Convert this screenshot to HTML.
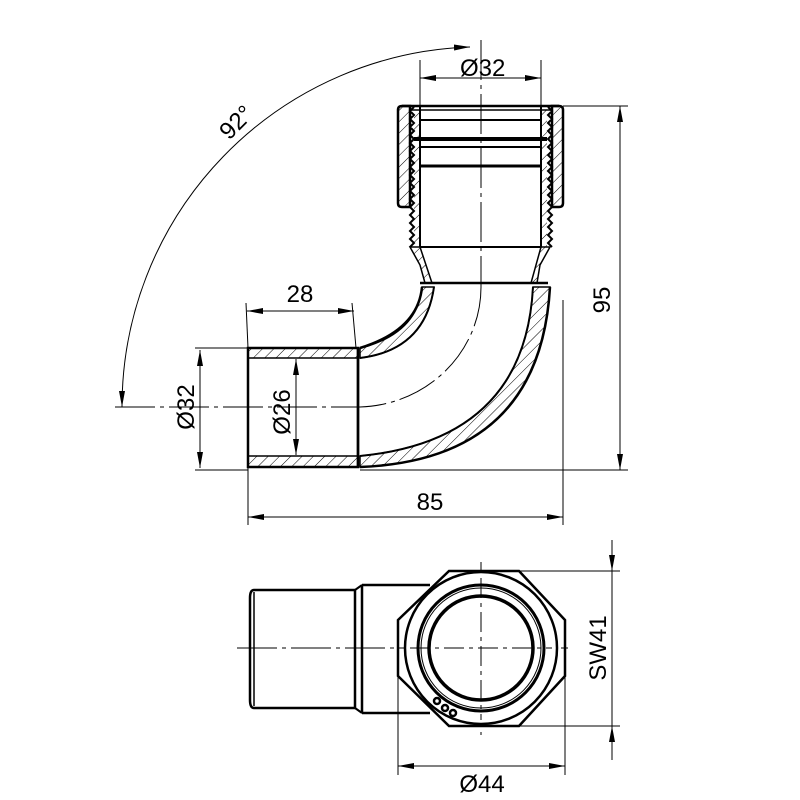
<!DOCTYPE html>
<html><head><meta charset="utf-8"><style>
html,body{margin:0;padding:0;background:#fff}
svg{display:block}
text{font-family:"Liberation Sans",sans-serif;font-size:24px;fill:#000}
</style></head><body>
<svg width="800" height="800" viewBox="0 0 800 800" xmlns="http://www.w3.org/2000/svg">
<defs>
<pattern id="h" width="8" height="8" patternUnits="userSpaceOnUse" patternTransform="rotate(45)">
<line x1="0" y1="0" x2="0" y2="8" stroke="#000" stroke-width="1"/>
</pattern>
<marker id="b" viewBox="0 0 16 6" refX="16" refY="3" markerWidth="16" markerHeight="6" orient="auto-start-reverse" markerUnits="userSpaceOnUse">
<path d="M0,0 L16,3 L0,6z" fill="#000"/>
</marker>
</defs>
<g fill="none" stroke="#000">
<line x1="481" y1="40" x2="481" y2="287" stroke-width="1" stroke-dasharray="40,5,4,5"/>
<line x1="115" y1="407" x2="360" y2="407" stroke-width="1" stroke-dasharray="40,5,4,5"/>
<path d="M481,287 A125,120 0 0 1 360,407" stroke-width="1" stroke-dasharray="40,5,4,5"/>

<path d="M360,348 L368,346 Q418,330 422,287 L434,287 Q425,350 360,358 Z" fill="url(#h)" stroke-width="1.5"/>
<path d="M360,467 Q540,460 550,287 L533,287 Q525,440 360,456 Z" fill="url(#h)" stroke-width="1.5"/>
<path d="M360,348 Q418,330 422,287" stroke-width="2.5"/>
<path d="M360,467 Q540,460 550,287" stroke-width="2.5"/>
<path d="M360,358 Q425,350 434,287" stroke-width="2"/>
<path d="M360,456 Q525,440 533,287" stroke-width="2"/>
<line x1="420" y1="283" x2="548" y2="283" stroke-width="2.5"/>

<rect x="248" y="348" width="110" height="10" fill="url(#h)" stroke-width="1.5"/>
<rect x="248" y="456" width="110" height="11" fill="url(#h)" stroke-width="1.5"/>
<rect x="248" y="348" width="110" height="119" stroke-width="2.5"/>
<line x1="358" y1="348" x2="358" y2="467" stroke-width="2.5"/>

<path d="M410,247 L420,265 L425,283 L432,283 L420,247 Z" fill="url(#h)" stroke-width="1.5"/>
<path d="M550,247 L540,265 L537,283 L531,283 L541,247 Z" fill="url(#h)" stroke-width="1.5"/>
<line x1="420" y1="247" x2="541" y2="247" stroke-width="2"/>

<path d="M410,247 l4,-4 l-4,-4 l4,-4 l-4,-4 l4,-4 l-4,-4 l4,-4 l-4,-4 l4,-4 l-4,-4 l4,-4 l-4,-4 l4,-4 l-4,-4 l4,-4 l-4,-4 l4,-4 l-4,-4 l4,-4 l-4,-4 l4,-4 l-4,-4 l4,-4 l-4,-4 l4,-4 l-4,-4 l4,-4 l-4,-4 l4,-4 l-4,-4 l4,-4 l-4,-4 l4,-4 l-4,-4 l4,-4" stroke-width="2"/>
<path d="M552,247 l-4,-4 l4,-4 l-4,-4 l4,-4 l-4,-4 l4,-4 l-4,-4 l4,-4 l-4,-4 l4,-4 l-4,-4 l4,-4 l-4,-4 l4,-4 l-4,-4 l4,-4 l-4,-4 l4,-4 l-4,-4 l4,-4 l-4,-4 l4,-4 l-4,-4 l4,-4 l-4,-4 l4,-4 l-4,-4 l4,-4 l-4,-4 l4,-4 l-4,-4 l4,-4 l-4,-4 l4,-4 l-4,-4" stroke-width="2"/>
<path d="M414,247 L420,247 L420,108 L414,108 Z" fill="url(#h)" stroke="none"/>
<path d="M541,247 L547,247 L547,108 L541,108 Z" fill="url(#h)" stroke="none"/>
<line x1="420" y1="106" x2="420" y2="247" stroke-width="2"/>
<line x1="541" y1="106" x2="541" y2="247" stroke-width="2"/>

<path d="M398,110 Q398,106 402,106 L410,106 L410,207 L402,207 Q398,207 398,203 Z" fill="url(#h)" stroke-width="2.5"/>
<path d="M563,110 Q563,106 559,106 L552,106 L552,207 L559,207 Q563,207 563,203 Z" fill="url(#h)" stroke-width="2.5"/>
<path d="M402,106 L559,106" stroke-width="2.5"/>
<line x1="410" y1="110" x2="552" y2="110" stroke-width="1.5"/>
<line x1="420" y1="120" x2="541" y2="120" stroke-width="2"/>
<line x1="414" y1="139" x2="547" y2="139" stroke-width="4"/>
<line x1="420" y1="147" x2="541" y2="147" stroke-width="2"/>
<line x1="420" y1="166" x2="541" y2="166" stroke-width="3"/>

<line x1="420" y1="60" x2="420" y2="106" stroke-width="1"/>
<line x1="541" y1="60" x2="541" y2="106" stroke-width="1"/>
<line x1="420" y1="78" x2="541" y2="78" stroke-width="1" marker-start="url(#b)" marker-end="url(#b)"/>
<line x1="563" y1="106" x2="628" y2="106" stroke-width="1"/>
<line x1="360" y1="470" x2="628" y2="470" stroke-width="1"/>
<line x1="620" y1="106" x2="620" y2="470" stroke-width="1" marker-start="url(#b)" marker-end="url(#b)"/>
<line x1="248" y1="467" x2="248" y2="525" stroke-width="1"/>
<line x1="563" y1="300" x2="563" y2="525" stroke-width="1"/>
<line x1="248" y1="517" x2="563" y2="517" stroke-width="1" marker-start="url(#b)" marker-end="url(#b)"/>
<line x1="246" y1="303" x2="248" y2="348" stroke-width="1"/>
<line x1="352" y1="303" x2="356" y2="348" stroke-width="1"/>
<line x1="247" y1="311" x2="354" y2="311" stroke-width="1" marker-start="url(#b)" marker-end="url(#b)"/>
<line x1="195" y1="348" x2="248" y2="348" stroke-width="1"/>
<line x1="195" y1="470" x2="248" y2="470" stroke-width="1"/>
<line x1="200" y1="350" x2="200" y2="468" stroke-width="1" marker-start="url(#b)" marker-end="url(#b)"/>
<line x1="296" y1="359" x2="296" y2="455" stroke-width="1" marker-start="url(#b)" marker-end="url(#b)"/>
<path d="M470,47 A360,360 0 0 0 122,407" stroke-width="1" marker-start="url(#b)" marker-end="url(#b)"/>

<line x1="237" y1="648" x2="568" y2="648" stroke-width="1" stroke-dasharray="40,5,4,5"/>
<line x1="481" y1="562" x2="481" y2="735" stroke-width="1" stroke-dasharray="20,5,4,5"/>
<path d="M254,590 L355,590 L355,708 L254,708 Q250,708 250,700 L250,598 Q250,590 254,590 Z" stroke-width="2.5"/>
<line x1="254" y1="592" x2="254" y2="706" stroke-width="1.5"/>
<line x1="355" y1="590" x2="362" y2="585" stroke-width="2"/>
<line x1="355" y1="708" x2="362" y2="713" stroke-width="2"/>
<line x1="362" y1="585" x2="362" y2="713" stroke-width="2.5"/>
<line x1="362" y1="585" x2="430" y2="585" stroke-width="2.5"/>
<line x1="362" y1="713" x2="430" y2="713" stroke-width="2.5"/>
<path d="M449,571 L519,571 L565,620 L565,676 L519,726 L449,726 L398,676 L398,620 Z" stroke-width="2.5"/>
<circle cx="481" cy="648" r="76" stroke-width="2.5" fill="#fff"/>
<circle cx="481" cy="648" r="63" stroke-width="3"/>
<circle cx="481" cy="648" r="60" stroke-width="1"/>
<circle cx="481" cy="648" r="52" stroke-width="3.5"/>
<line x1="410" y1="648" x2="552" y2="648" stroke-width="1" stroke-dasharray="20,5,4,5"/>
<line x1="481" y1="578" x2="481" y2="720" stroke-width="1" stroke-dasharray="20,5,4,5"/>
<g stroke-width="2.5"><circle cx="437" cy="701" r="3"/><circle cx="445" cy="708" r="3"/><circle cx="453" cy="713" r="3"/></g>

<line x1="519" y1="571" x2="620" y2="571" stroke-width="1"/>
<line x1="519" y1="726" x2="620" y2="726" stroke-width="1"/>
<line x1="612" y1="540" x2="612" y2="571" stroke-width="1" marker-end="url(#b)"/>
<line x1="612" y1="760" x2="612" y2="726" stroke-width="1" marker-end="url(#b)"/>
<line x1="612" y1="571" x2="612" y2="726" stroke-width="1"/>
<line x1="398" y1="660" x2="398" y2="775" stroke-width="1"/>
<line x1="565" y1="660" x2="565" y2="775" stroke-width="1"/>
<line x1="398" y1="766" x2="565" y2="766" stroke-width="1" marker-start="url(#b)" marker-end="url(#b)"/>
</g>
<text x="460" y="76">Ø32</text>
<text x="300" y="302" text-anchor="middle">28</text>
<text x="430" y="510" text-anchor="middle">85</text>
<text transform="translate(610,300) rotate(-90)" text-anchor="middle">95</text>
<text transform="translate(194,407) rotate(-90)" text-anchor="middle">Ø32</text>
<text transform="translate(290,412) rotate(-90)" text-anchor="middle">Ø26</text>
<text transform="translate(242,128) rotate(-45)" text-anchor="middle">92°</text>
<text transform="translate(606,648) rotate(-90)" text-anchor="middle">SW41</text>
<text x="482" y="792" text-anchor="middle">Ø44</text>
</svg>
</body></html>
